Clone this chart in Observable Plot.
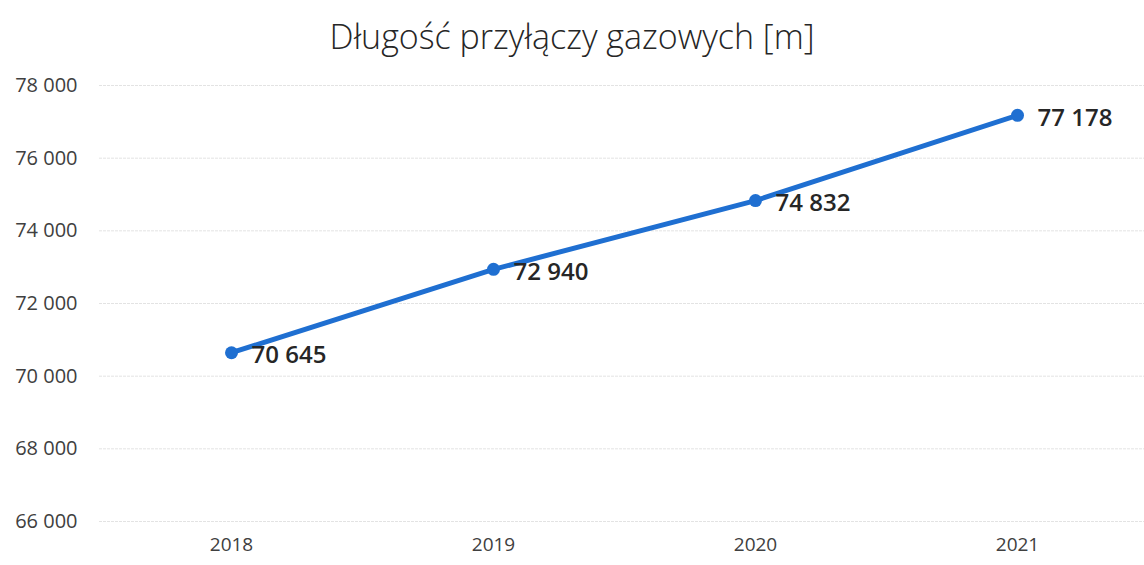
<!DOCTYPE html>
<html>
<head>
<meta charset="utf-8">
<script src="https://cdn.jsdelivr.net/npm/d3@7"></script>
<script src="https://cdn.jsdelivr.net/npm/@observablehq/plot@0.6"></script>
<style>
  html, body { margin: 0; padding: 0; background: #fff; }
  body { width: 1144px; height: 565px; overflow: hidden; font-family: "Open Sans", sans-serif; }
  #title { height: 65px; line-height: 72px; text-align: center; font-size: 34px; font-weight: 300; color: #262626; font-family: "Open Sans", sans-serif; }
</style>
</head>
<body>
<div id="title">Długość przyłączy gazowych [m]</div>
<div id="chart"></div>
<script>
const years = ["2018", "2019", "2020", "2021"];
const values = [70645, 72940, 74832, 77178];
const yTicks = [66000, 68000, 70000, 72000, 74000, 76000, 78000];

const data = years.map((y, i) => ({year: y, value: values[i]}));
const fmt = d3.formatLocale({thousands: " ", grouping: [3], decimal: ",", currency: ["", ""]}).format(",d");

const chart = Plot.plot({
  width: 1144,
  height: 500,
  marginTop: 20,
  marginBottom: 44,
  marginLeft: 99,
  marginRight: -4,
  style: {fontFamily: "Open Sans, sans-serif", fontSize: "18px", color: "#404040", background: "#fff"},
  x: {type: "point", domain: years, padding: 0.5, label: null},
  y: {domain: [66000, 78000], label: null},
  marks: [
    Plot.ruleY(yTicks, {stroke: "#e3e3e3", strokeWidth: 1, strokeDasharray: "3,1"}),
    Plot.axisX({tickSize: 0, tickPadding: 16, fontSize: 19, fill: "#404040"}),
    Plot.axisY({ticks: yTicks, tickFormat: fmt, tickSize: 0, tickPadding: 22, fontSize: 20, fill: "#404040"}),
    Plot.line(data, {x: "year", y: "value", stroke: "#1f6fd1", strokeWidth: 5}),
    Plot.dot(data, {x: "year", y: "value", r: 6.5, fill: "#1f6fd1"}),
    Plot.text(data, {x: "year", y: "value", text: d => fmt(d.value), dx: 20, dy: 3, textAnchor: "start", fontSize: 24, fontWeight: 600, fill: "#262626"})
  ]
});
document.getElementById("chart").appendChild(chart);
</script>
</body>
</html>
